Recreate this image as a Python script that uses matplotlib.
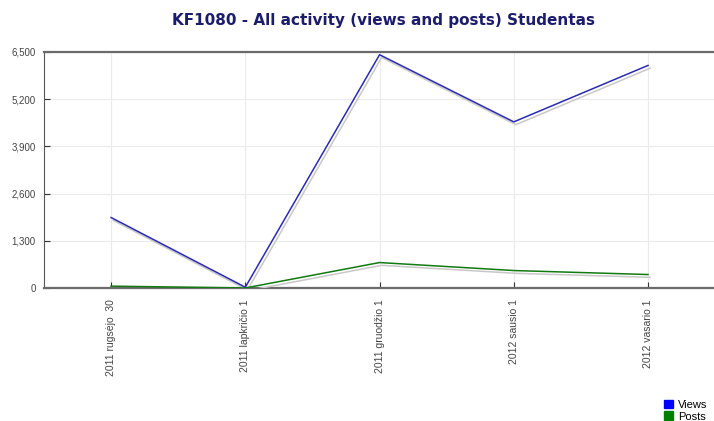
import matplotlib
matplotlib.use("Agg")
import matplotlib.pyplot as plt
import matplotlib.patheffects as pe
from matplotlib.patches import Patch
import numpy as np

dates = ["2011 rugsėjo  30", "2011 lapkričio 1", "2011 gruodžio 1",
         "2012 sausio 1", "2012 vasario 1"]
views = [1940, 20, 6425, 4575, 6130]
posts = [50, 0, 700, 480, 370]
yticks = [0, 1300, 2600, 3900, 5200, 6500]

plt.rcParams["font.family"] = ["Liberation Sans", "DejaVu Sans"]

fig = plt.figure(figsize=(7.14, 4.21), dpi=100)
ax = fig.add_axes([0.0616, 0.316, 0.94, 0.5605])

fig.text(0.537, 0.952, "KF1080 - All activity (views and posts) Studentas",
         ha="center", va="center", fontsize=11, fontweight="bold", color="#1c1c6c",
         family="DejaVu Sans")

shadow = [pe.SimpleLineShadow(offset=(1.5, -2), shadow_color="#c8c8c8", alpha=1),
          pe.Normal()]
xpos = np.arange(len(dates))
ax.plot(xpos, views, color="#2a2ab4", lw=1.1, path_effects=shadow, zorder=3)
ax.plot(xpos, posts, color="#117a11", lw=1.1, path_effects=shadow, zorder=3)

ax.set_xlim(-0.5, len(dates) - 0.5)
ax.set_ylim(0, 6500)
ax.set_xticks(xpos)
ax.set_xticklabels(dates, rotation=90, fontsize=7.5, color="#444444")
ax.set_yticks(yticks)
ax.set_yticklabels([f"{v:,}" for v in yticks], fontsize=7, color="#444444")
ax.tick_params(direction="in", length=4, width=0.8, color="#333333", pad=6)
ax.tick_params(axis="x", pad=8)
ax.grid(True, color="#ebebeb", lw=0.8)
ax.set_axisbelow(True)

for side in ("top", "bottom"):
    ax.spines[side].set_color("#6a6a6a")
    ax.spines[side].set_linewidth(1.6)
ax.spines["left"].set_color("#555555")
ax.spines["left"].set_linewidth(0.8)
ax.spines["right"].set_visible(False)

handles = [Patch(color="#0000ff", label="Views"), Patch(color="#008000", label="Posts")]
fig.legend(handles=handles, loc="lower right", bbox_to_anchor=(1.005, -0.025),
           frameon=False, fontsize=8, handlelength=0.8, handleheight=0.8,
           handletextpad=0.5, labelspacing=0.15)

fig.savefig("out.png", dpi=100)
